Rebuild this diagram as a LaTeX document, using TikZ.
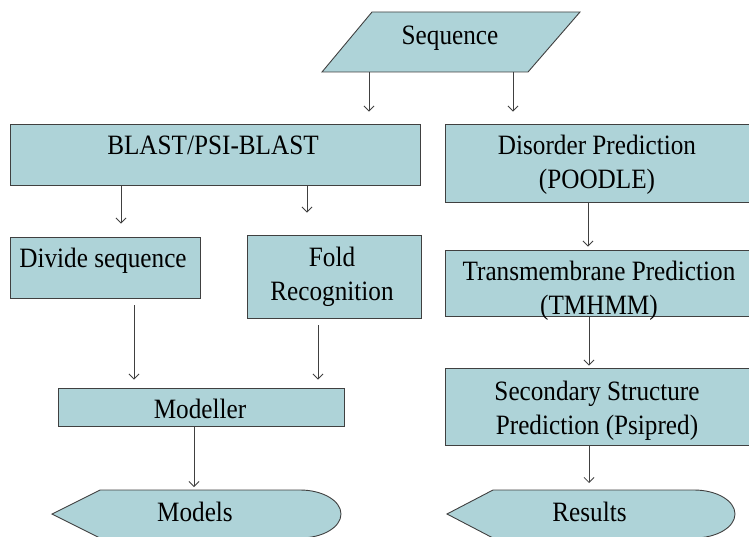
\documentclass[tikz,border=0pt]{standalone}
\usepackage{fontspec}
\setmainfont{Liberation Serif}[FakeStretch=0.9]
\usepackage{tikz}
\usetikzlibrary{arrows.meta}
\definecolor{boxfill}{RGB}{174,211,216}
\definecolor{edge}{RGB}{64,64,64}

\begin{document}
\begin{tikzpicture}[x=1pt,y=-1pt]
\tikzstyle{block}=[rectangle,draw=edge,line width=0.9pt,fill=boxfill,inner sep=0pt]
\tikzstyle{shp}=[draw=edge,line width=0.9pt,fill=boxfill]
\tikzstyle{txt}=[inner sep=0pt,align=center,font=\fontsize{28}{34}\selectfont]
\tikzstyle{arr}=[draw=edge,line width=0.8pt,-{Straight Barb[length=5pt,width=10pt]}]

\useasboundingbox (0,0) rectangle (749,537);

% input
\draw[shp] (322,72) -- (372,12) -- (580,12) -- (528,72) -- cycle;
\coordinate (seqa) at (369,72);
\coordinate (seqb) at (513,72);

% left column
\node [block,minimum width=410pt,minimum height=61pt] (blast) at (215,154.5) {};
\node [block,minimum width=190pt,minimum height=61pt] (divide) at (105,267.5) {};
\node [block,minimum width=174pt,minimum height=83pt] (fold) at (334,276.5) {};
\node [block,minimum width=286pt,minimum height=38pt] (modeller) at (201,407) {};

% right column
\node [block,minimum width=304pt,minimum height=78pt] (dis) at (597,163) {};
\node [block,minimum width=304pt,minimum height=66pt] (tm) at (597,283) {};
\node [block,minimum width=304pt,minimum height=77pt] (ss) at (597,406.5) {};

% outputs
\draw[shp] (52,514) -- (100,490) -- (300,490) arc[start angle=-90,end angle=90,x radius=41,y radius=24] -- (100,538) -- cycle;
\draw[shp] (447,514) -- (493,490) -- (694,490) arc[start angle=-90,end angle=90,x radius=41,y radius=24] -- (493,538) -- cycle;
\coordinate (modelstop) at (194,490);
\coordinate (resultstop) at (589,490);

% texts
\node [txt,anchor=base] (seq) at (450,45) {Sequence};
\node [txt,anchor=base] (blasttxt) at (213,155) {BLAST/PSI-BLAST};
\node [txt,anchor=base] (dividetxt) at (103,268) {Divide sequence};
\node [txt] (foldtxt) at (332,277) {Fold\\Recognition};
\node [txt,anchor=base] (modellertxt) at (200,418) {Modeller};
\node [txt] (distxt) at (597,165) {Disorder Prediction\\(POODLE)};
\node [txt] (tmtxt) at (599,291) {Transmembrane Prediction\\(TMHMM)};
\node [txt] (sstxt) at (597,411) {Secondary Structure\\Prediction (Psipred)};
\node [txt,anchor=base] (models) at (195,521) {Models};
\node [txt,anchor=base] (results) at (589.5,521) {Results};

% arrows
\draw[arr,shorten >=12pt] (seqa) -- ([xshift=154pt]blast.north);
\draw[arr,shorten >=12pt] (seqb) -- ([xshift=-84pt]dis.north);
\draw[arr,shorten >=13pt] ([xshift=-94pt]blast.south) -- ([xshift=16pt]divide.north);
\draw[arr,shorten >=22pt] ([xshift=92pt]blast.south) -- ([xshift=-27pt]fold.north);
\draw[arr,shorten <=7pt,shorten >=8pt] ([xshift=29pt]divide.south) -- ([xshift=-67pt]modeller.north);
\draw[arr,shorten <=7pt,shorten >=8pt] ([xshift=-16pt]fold.south) -- ([xshift=117pt]modeller.north);
\draw[arr,shorten >=3pt] ([xshift=-7pt]modeller.south) -- (modelstop);
\draw[arr,shorten >=3pt] ([xshift=-9pt]dis.south) -- ([xshift=-9pt]tm.north);
\draw[arr,shorten >=2pt] ([xshift=-8pt]tm.south) -- ([xshift=-8pt]ss.north);
\draw[arr,shorten >=7pt] ([xshift=-8pt]ss.south) -- (resultstop);
\end{tikzpicture}
\end{document}
